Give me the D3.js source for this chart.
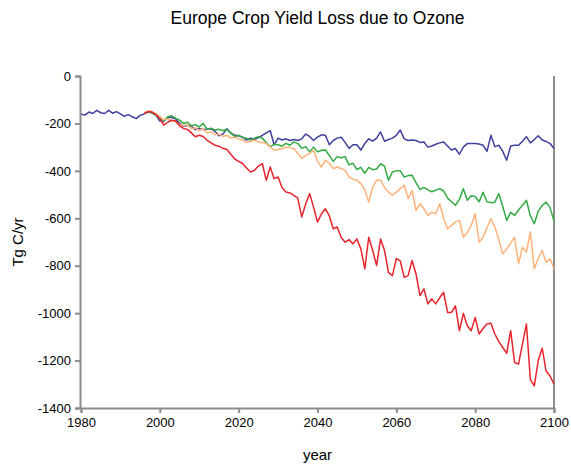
<!DOCTYPE html>
<html>
<head>
<meta charset="utf-8">
<script src="https://cdn.jsdelivr.net/npm/d3@7"></script>
<style>
  body { margin: 0; background: #fff; }
  text { font-family: "Liberation Sans", Arial, sans-serif; fill: #000; }
</style>
</head>
<body>
<svg id="chart" width="571" height="470"></svg>
<script>
// yearly values, Tg C/yr
const blueStart = 1980;
const blueLoss = [
  -160, -165, -152, -158, -145, -155, -158, -145, -157, -150,
  -160, -170, -163, -172, -180, -166, -160, -152, -155, -165,
  -190, -192, -175, -175, -180, -200, -212, -208, -212, -226,
  -221, -226, -224, -222, -233, -252, -245, -222, -240, -250,
  -252, -258, -270, -262, -268, -260, -250, -240, -230, -290,
  -262, -270, -265, -272, -268, -272, -265, -245, -255, -272,
  -258, -248, -250, -290, -272, -262, -258, -280, -305, -290,
  -290, -312, -285, -265, -275, -262, -236, -275, -268, -262,
  -250, -228, -265, -272, -270, -272, -280, -278, -300, -295,
  -288, -282, -278, -295, -312, -306, -330, -300, -285, -285,
  -285, -287, -292, -318, -250, -298, -292, -318, -355, -295,
  -292, -292, -275, -256, -282, -268, -252, -270, -276, -285,
  -306
];

const scenarioStart = 1996;
const greenLoss = [
  -160, -150, -155, -165,
  -180, -190, -172, -168, -178, -186, -200, -195, -210, -205,
  -215, -200, -225, -220, -228, -225, -230, -226, -240, -256,
  -250, -260, -262, -272, -262, -256, -262, -280, -298, -288,
  -290, -296, -284, -292, -278, -285, -305, -298, -320, -300,
  -320, -313, -312, -335, -360, -340, -345, -340, -375, -368,
  -395, -385, -410, -385, -395, -392, -370, -380, -440, -405,
  -400, -400, -426, -420, -419, -450, -478, -470, -480, -488,
  -482, -475, -485, -515, -530, -545, -520, -475, -524, -505,
  -508, -530, -490, -530, -534, -532, -496, -550, -609, -575,
  -588, -565, -545, -524, -590, -623, -570, -546, -532, -555,
  -612
];
const orangeLoss = [
  -155, -148, -150, -160,
  -170, -185, -180, -190, -192, -205, -210, -205, -222, -218,
  -230, -222, -240, -235, -248, -245, -255, -250, -262, -258,
  -265, -271, -280, -275, -271, -278, -280, -285, -299, -313,
  -310, -306, -300, -302, -306, -327, -348, -335, -327, -313,
  -360, -384, -355, -369, -390, -384, -390, -398, -426, -435,
  -440, -454, -480, -532, -468, -440, -440, -470, -490, -503,
  -490, -475, -461, -517, -482, -567, -539, -560, -588, -574,
  -581, -539, -600, -644, -630, -615, -609, -680, -660, -630,
  -581, -701, -680, -640, -602, -637, -690, -750, -729, -705,
  -680, -792, -722, -743, -658, -813, -770, -736, -785, -771,
  -813
];
const redLoss = [
  -158, -150, -152, -162,
  -180, -207, -195, -186, -190, -210, -221, -225, -240, -256,
  -250, -255, -271, -282, -292, -296, -305, -310, -330, -350,
  -360, -369, -388, -405, -398, -380, -369, -440, -384, -433,
  -426, -470, -489, -493, -503, -515, -595, -540, -496, -553,
  -616, -581, -560, -590, -644, -637, -680, -701, -690, -708,
  -687, -729, -813, -680, -736, -799, -687, -736, -828, -842,
  -770, -780, -849, -842, -778, -835, -926, -898, -961, -940,
  -961, -935, -912, -997, -997, -969, -1074, -1001, -1053, -1074,
  -1018, -1088, -1065, -1046, -1043, -1088, -1120, -1145, -1170, -1074,
  -1208, -1215, -1130, -1046, -1279, -1307, -1200, -1148, -1244, -1265,
  -1300
];

const xTicks = [1980, 2000, 2020, 2040, 2060, 2080, 2100];
const yTicks = [0, -200, -400, -600, -800, -1000, -1200, -1400];

const series = [
  { start: blueStart, values: blueLoss, color: "#40409e" },
  { start: scenarioStart, values: greenLoss, color: "#33aa44" },
  { start: scenarioStart, values: orangeLoss, color: "#ffb27a" },
  { start: scenarioStart, values: redLoss, color: "#e8242c" }
];

const svg = d3.select("#chart"),
  margin = { top: 76, right: 17, bottom: 62, left: 80 },
  width = +svg.attr("width"),
  height = +svg.attr("height");

const x = d3.scaleLinear()
  .domain([1980, 2100])
  .range([margin.left + 1, width - margin.right]);

const y = d3.scaleLinear()
  .domain([-1400, 0])
  .range([height - margin.bottom, margin.top]);

// right border of plot area
svg.append("line")
  .attr("x1", x(2100)).attr("x2", x(2100))
  .attr("y1", y(0)).attr("y2", y(-1400))
  .attr("stroke", "#8c8c8c")
  .attr("stroke-width", 2);

const line = d3.line()
  .x((d) => x(d.year))
  .y((d) => y(d.value));

series.forEach(function (s) {
  const pts = s.values.map((v, i) => ({ year: s.start + i, value: v }));
  svg.append("path")
    .datum(pts)
    .attr("fill", "none")
    .attr("stroke", s.color)
    .attr("stroke-width", 1.5)
    .attr("stroke-linejoin", "round")
    .attr("d", line);
});

const xAxis = (g) =>
  g
    .attr("transform", "translate(0," + y(-1400) + ")")
    .call(d3.axisBottom(x).tickValues(xTicks).tickFormat((d) => String(d)).tickSizeOuter(0).tickSize(5))
    .call((g) => g.selectAll("path, line").attr("stroke", "#8c8c8c").attr("stroke-width", 2))
    .call((g) => g.selectAll("text").attr("font-size", 13).attr("y", 10).attr("font-family", null));

const yAxis = (g) =>
  g
    .attr("transform", "translate(" + margin.left + ",0)")
    .call(d3.axisLeft(y).tickValues(yTicks).tickFormat((d) => String(d)).tickSizeOuter(0).tickSize(5))
    .call((g) => g.selectAll("path, line").attr("stroke", "#8c8c8c").attr("stroke-width", 2))
    .call((g) => g.selectAll("text").attr("font-size", 13).attr("x", -9).attr("font-family", null));

svg.append("g").attr("class", "x-axis").call(xAxis);
svg.append("g").attr("class", "y-axis").call(yAxis);

svg.append("text")
  .attr("x", (x(1980) + x(2100)) / 2)
  .attr("y", 24)
  .attr("text-anchor", "middle")
  .attr("font-size", 17.5)
  .text("Europe Crop Yield Loss due to Ozone");

svg.append("text")
  .attr("x", (x(1980) + x(2100)) / 2)
  .attr("y", 460)
  .attr("text-anchor", "middle")
  .attr("font-size", 15)
  .text("year");

svg.append("text")
  .attr("transform", "translate(23," + y(-700) + ") rotate(-90)")
  .attr("text-anchor", "middle")
  .attr("font-size", 15)
  .text("Tg C/yr");
</script>
</body>
</html>
